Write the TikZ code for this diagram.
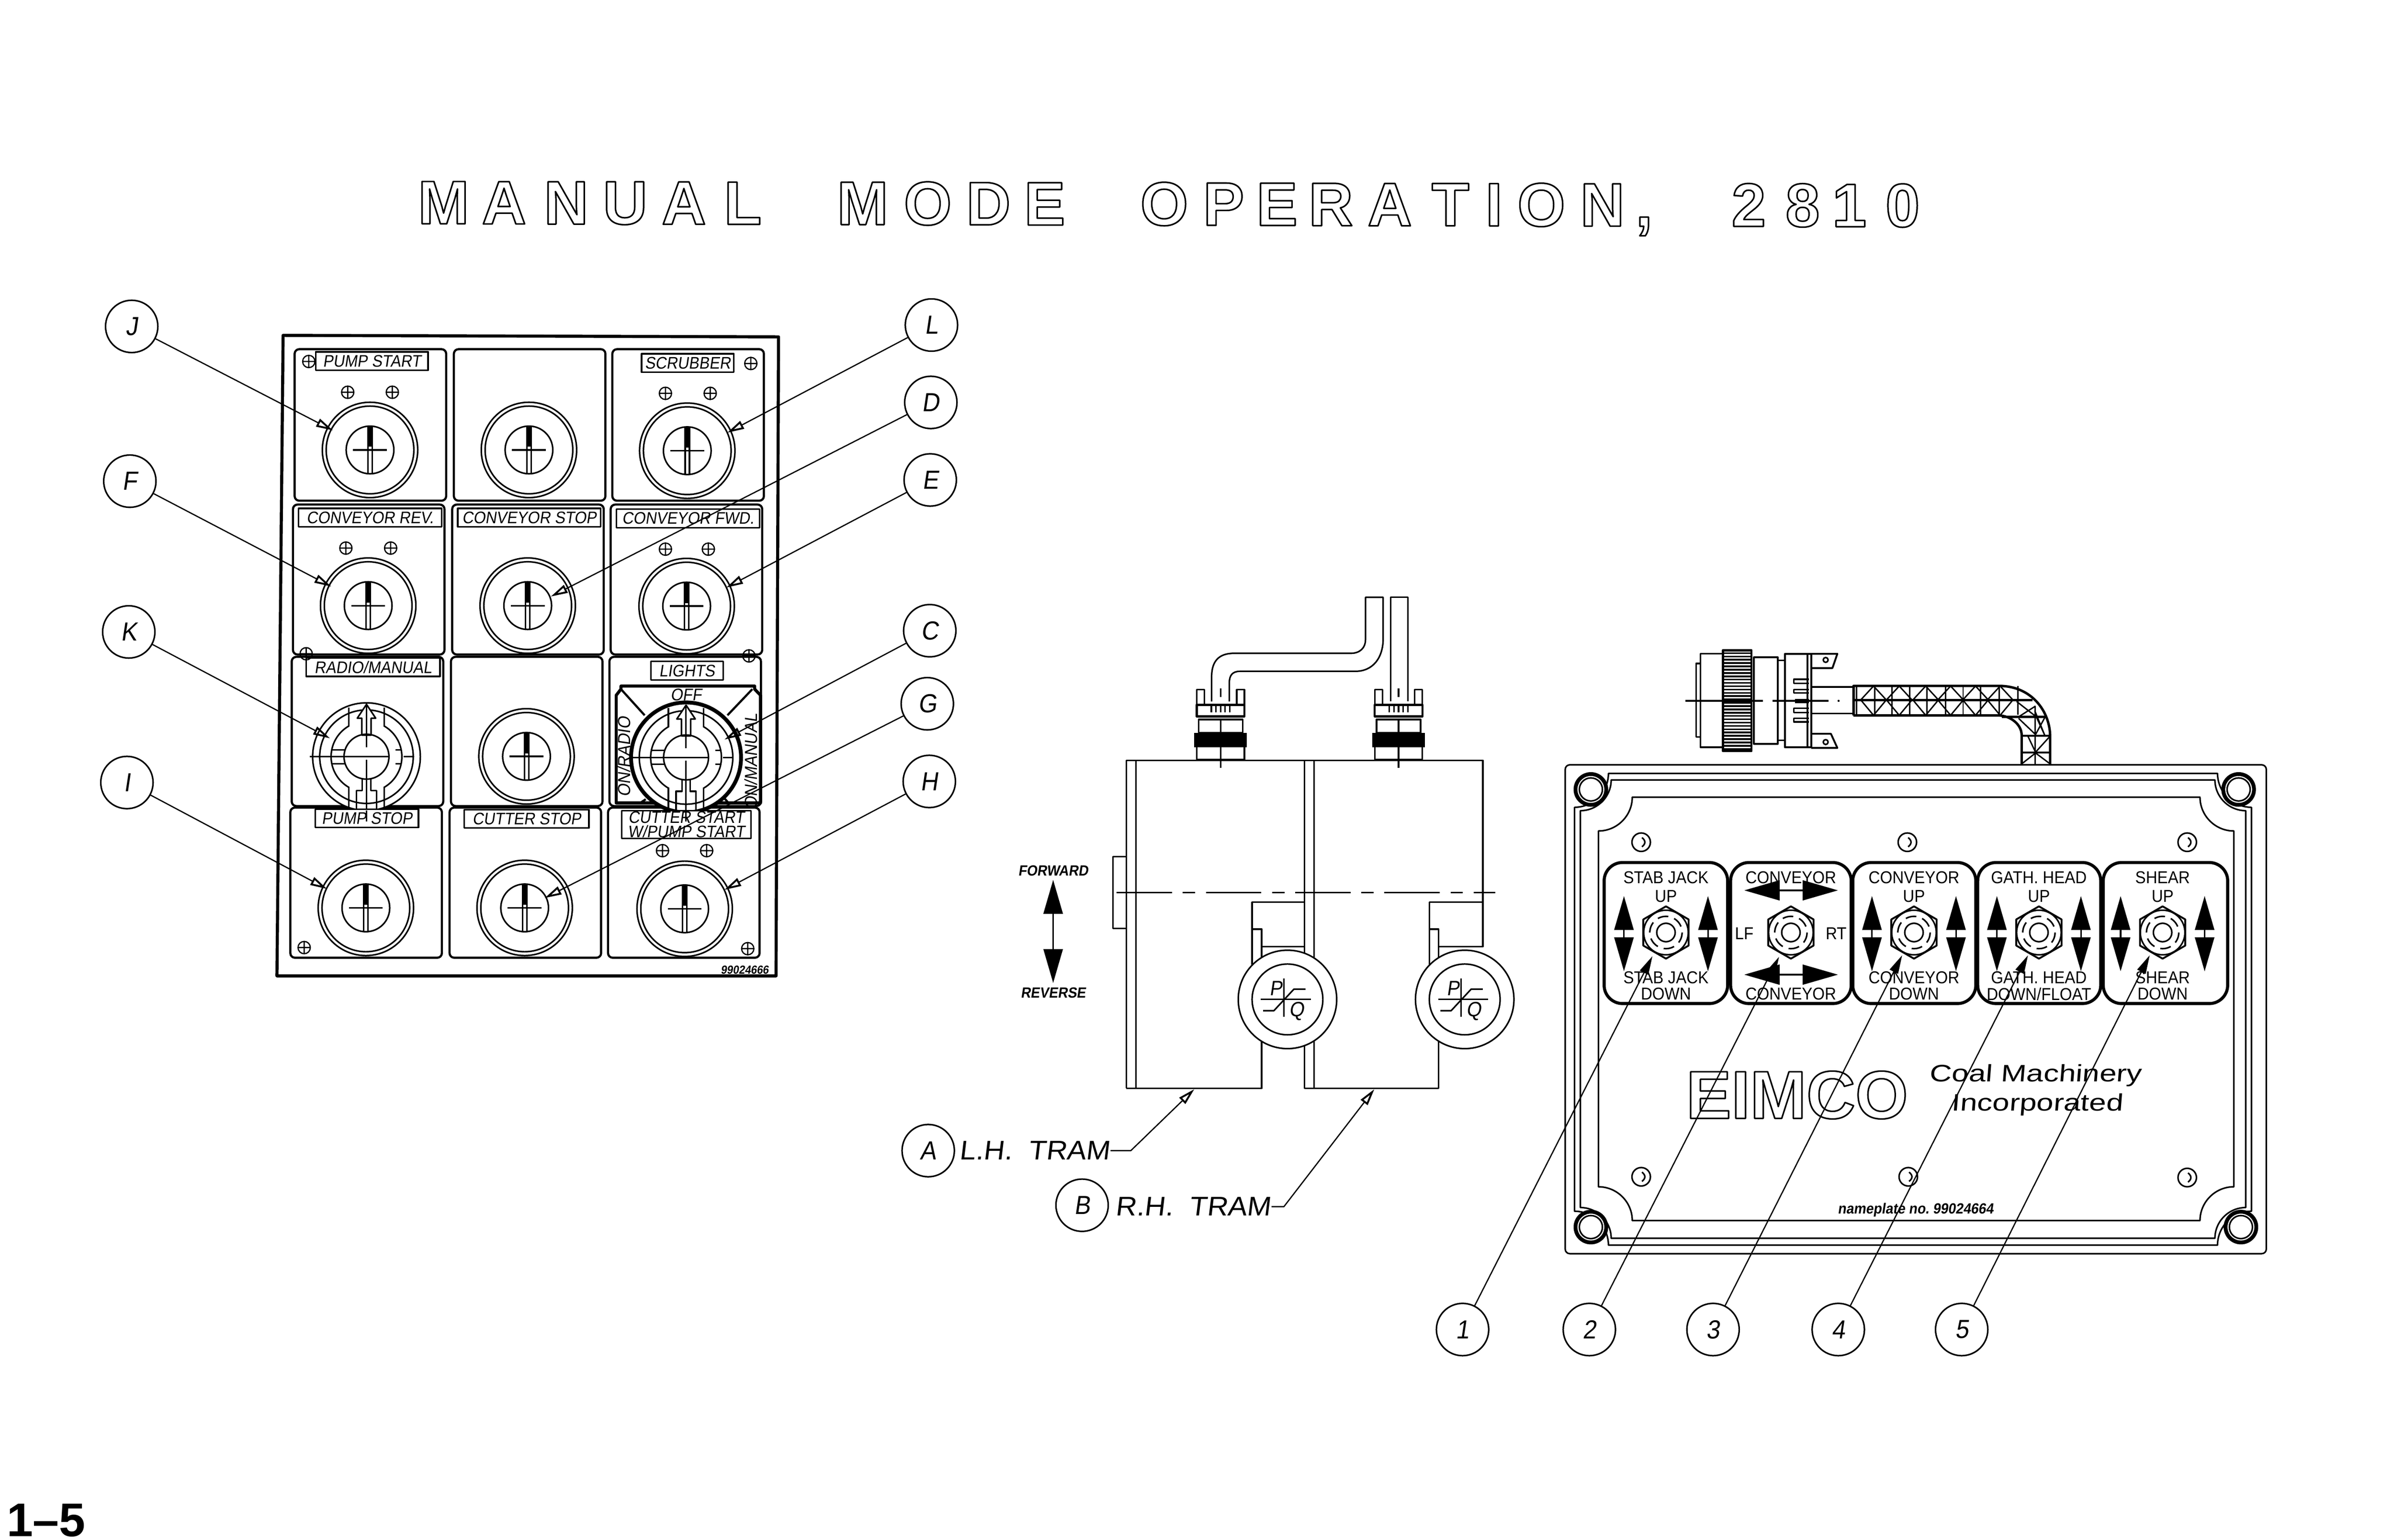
\documentclass[tikz,border=0pt]{standalone}
\usepackage{fontspec}
\setmainfont{Liberation Sans}
\newfontfamily\cadfont[FakeSlant=0.15,FakeStretch=0.92]{Liberation Sans}
\newfontfamily\cadup[FakeStretch=0.92]{Liberation Sans}
\newfontfamily\cadtram[FakeSlant=0.12,FakeStretch=1.07]{Liberation Sans}
\newfontfamily\cadwide[FakeSlant=0.08,FakeStretch=1.28]{Liberation Sans}
\newfontfamily\titlefont{Liberation Sans}
\usetikzlibrary{arrows.meta,positioning,shapes.geometric,calc}

% outlined letters
\newcommand{\outlined}[1]{\special{pdf:code 1 Tr 1 w}#1\special{pdf:code 0 Tr}}

\tikzset{
  callout/.style={circle,draw,fill=white,minimum size=34pt,inner sep=0pt,font=\cadfont\fontsize{17}{17}\selectfont},
  tag/.style={draw,fill=white,inner sep=0pt,minimum height=12pt,font=\cadfont\fontsize{10.9}{9.5}\selectfont},
  btnring/.style={circle,draw,fill=white,minimum size=62pt,inner sep=0pt},
  leader/.style={->,line width=0.8pt},
  leaderdark/.style={-{Triangle[length=12pt,width=6pt]},line width=0.8pt},
  swplate/.style={draw,line width=2pt,rounded corners=12pt},
  swtext/.style={font=\cadup\fontsize{11.2}{11}\selectfont,inner sep=0pt},
  hexnut/.style={regular polygon,regular polygon sides=6,shape border rotate=30,draw,line width=1.2pt,minimum size=34pt,inner sep=0pt},
  titleletter/.style={anchor=base,inner sep=0pt,font=\titlefont\bfseries\fontsize{40}{40}\selectfont},
  dial/.style={circle,draw,fill=white,inner sep=0pt},
  bigarrow/.style={{Triangle[length=22pt,width=12.5pt]}-{Triangle[length=22pt,width=12.5pt]}},
  widearrow/.style={{Triangle[length=23pt,width=13pt]}-{Triangle[length=23pt,width=13pt]}}
}

% push button of the panel
\newcommand{\pushbtn}[3]{%
  \node[btnring] (#1) at (#2,#3) {};
  \draw (#2,#3) circle[radius=28.5];
  \draw (#2,#3) circle[radius=15.5];
  \begin{scope}[shift={(#2,#3)}]
    \draw (-1.4,-15.2) -- (-1.4,15.2) (1.4,-15.2) -- (1.4,15.2);
    \fill (-1.4,-15) rectangle (1.4,-2);
    \draw (-11,0) -- (11,0);
  \end{scope}
}
% selector switch of the panel
\newcommand{\selector}[3]{%
  \node[circle,draw,fill=white,minimum size=70pt,inner sep=0pt] (#1) at (#2,#3) {};
  \begin{scope}[shift={(#2,#3)}]
    \draw (0,0) circle[radius=30.4];
    \draw (0,0) circle[radius=23];
    \fill[white] (-11,-27) rectangle (11,-15);
    \fill[white] (-11,27) rectangle (11,15);
    \draw (-11.5,-32) -- (-11.5,-20) (11.5,-32) -- (11.5,-20);
    \draw (-11.5,33) -- (-11.5,20) (11.5,33) -- (11.5,20);
    \draw[fill=white] (0,-34) -- (-6,-25) -- (-3,-25) -- (-3,-14) -- (3,-14) -- (3,-25) -- (6,-25) -- cycle;
    \draw (-6.5,34) -- (-6.5,22) -- (-2.7,22) -- (-2.7,14) (6.5,34) -- (6.5,22) -- (2.7,22) -- (2.7,14);
    \draw (0,0) circle[radius=14.6];
    \draw (-37,0) -- (14.6,0) (24,0) -- (31,0) (-23,-4.5) -- (-14,-4.5) (-23,4.5) -- (-14,4.5);
    \draw (19,-4.5) -- (23,-4.5) (19,4.5) -- (23,4.5);
    \draw (0,-34) -- (0,-6) (0,2) -- (0,42);
  \end{scope}
}
\newcommand{\screw}[2]{%
  \draw[line width=0.8pt] (#1,#2) circle[radius=4] (#1-4,#2) -- (#1+4,#2) (#1,#2-4) -- (#1,#2+4);
}
% plug on top of the tram switch
\newcommand{\tramplug}[1]{%
  \begin{scope}[shift={(#1,0)}]
    \draw (-15.5,493.7) rectangle (15.5,485.3);
    \fill (-17.2,476.4) rectangle (17.2,485.9);
    \draw (-14.3,467.7) rectangle (14.3,476.4);
    \draw[line width=1.4pt] (-15.5,458.2) rectangle (15.5,465.7);
    \draw (-15.5,458.2) -- (-15.5,448.4) -- (-10.5,448.4) -- (-10.5,458.2);
    \draw (15.5,458.2) -- (15.5,448.4) -- (10.5,448.4) -- (10.5,458.2);
    \foreach \pin in {-6,-3,0,3,6} {\draw (\pin,458) -- (\pin,463);}
    \draw (0,447.6) -- (0,453) (0,467.7) -- (0,499.3);
  \end{scope}
}

\begin{document}
\begin{tikzpicture}[x=1pt,y=-1pt,line width=1pt,line join=round,>={Triangle[open,length=11pt,width=5.5pt,line width=1.2pt]}]
    \useasboundingbox (0,0) rectangle (1556,1001);
    \fill[white] (0,0) rectangle (1556,1001);

    % Title
    \foreach \ch/\x/\y in {M/288.3/145.5,A/327.6/145.6,N/368/145.7,U/406.3/145.7,A/444.5/145.8,L/482.8/145.9,
        M/560.7/146,O/603/146.1,D/642.4/146.2,E/679/146.3,O/756.7/146.4,P/795.3/146.5,E/830/146.6,R/865/146.7,
        A/903.3/146.8,T/942.7/146.8,I/971/146.9,O/1001.8/147,N/1041.5/147,{,}/1068.6/147.1,
        2/1136.6/147.2,8/1171.6/147.3,1/1202/147.4,0/1236.6/147.4} {
        \node[titleletter] at (\x,\y) {\outlined{\ch}};
    }
    \node[inner sep=0pt,font=\bfseries\fontsize{30.7}{30.7}\selectfont] (pagenum) at (30,988.5) {1--5};

    % Panel
    \draw[line width=2pt] (184,218) -- (506,219) -- (504.4,634.4) -- (180,634.4) -- cycle;
    \foreach \ya/\yb/\off in {227/325.5/0,328/425.5/1.1,427/524/1.9,525/622.6/2.8} {
        \foreach \xa in {191.5,295,398} {
            \draw[line width=1.4pt,rounded corners=3pt] (\xa-\off,\ya) rectangle (\xa-\off+98.5,\yb);
        }
    }
    \foreach \i/\x/\y in {J/240.5/292.5,M/343.8/292.5,L/446.7/293,F/239.3/393.7,D/343/393.7,E/446.3/394,
        S/342.2/491.7,I/237.8/590.2,G/341/590.2,H/445/590.8} {
        \pushbtn{btn\i}{\x}{\y}
    }
    \selector{btnK}{238.2}{491.9}

    % Lights selector
    \draw[line width=2pt] (400.5,522) -- (400.5,452) -- (403.6,448) -- (403.6,446) -- (490.5,446) -- (490.5,448) -- (494.3,452) -- (494.3,522) -- cycle;
    \draw[line width=1.4pt] (403.6,448) -- (419,465) (489,448) -- (472.8,465);
    \draw[line width=1.4pt] (419.7,519.6) -- (416,522) (473.5,522) -- (470,518);
    \selector{btnC}{445.9}{492.4}
    \draw[line width=2pt] (445.9,492.4) circle[radius=36];
    \node[inner sep=0pt,font=\cadfont\fontsize{11}{11}\selectfont] (off) at (445.9,451.6) {OFF};
    \node[inner sep=0pt,rotate=90,font=\cadfont\fontsize{11.4}{11}\selectfont] (onradio) at (405.5,492) {ON/RADIO};
    \node[inner sep=0pt,rotate=90,font=\cadfont\fontsize{11.4}{11}\selectfont] (onmanual) at (488.2,495) {ON/MANUAL};

    % Panel tags
    \node[tag,minimum width=73pt] (tagpumpstart) at (241.7,234.7) {PUMP START};
    \node[tag,minimum width=60pt] (tagscrubber) at (447,236) {SCRUBBER};
    \node[tag,minimum width=93pt] (tagconvrev) at (240.5,336.5) {CONVEYOR REV.};
    \node[tag,minimum width=93pt] (tagconvstop) at (344,336.5) {CONVEYOR STOP};
    \node[tag,minimum width=93pt] (tagconvfwd) at (447.2,337) {CONVEYOR FWD.};
    \node[tag,minimum width=87pt] (tagradio) at (242.5,433.7) {RADIO/MANUAL};
    \node[tag,minimum width=47pt] (taglights) at (446.5,436) {LIGHTS};
    \node[tag,minimum width=67pt] (tagpumpstop) at (238.5,532) {PUMP STOP};
    \node[tag,minimum width=81pt] (tagcutstop) at (342.3,532.3) {CUTTER STOP};
    \node[tag,minimum width=84pt,minimum height=18pt,align=center] (tagcutstart) at (446,536) {CUTTER START\\W/PUMP START};
    \draw (238.2,527) -- (238.2,534) (445.9,527) -- (445.9,534);
    \node[inner sep=0pt,font=\cadfont\bfseries\fontsize{7.6}{8}\selectfont] (partpanel) at (484,630.5) {99024666};

    \screw{200.7}{235}
    \screw{226}{255}
    \screw{255}{255}
    \screw{488}{236.3}
    \screw{432.5}{255.7}
    \screw{461.6}{255.7}
    \screw{224.8}{356.3}
    \screw{253.9}{356.3}
    \screw{432.5}{357}
    \screw{460.4}{357}
    \screw{199}{425}
    \screw{486.8}{426.4}
    \screw{430.6}{553}
    \screw{459.3}{553}
    \screw{197.7}{616}
    \screw{486}{616.7}

    % Panel callouts
    \node[callout] (cJ) at (85.6,212.2) {J};
    \node[callout] (cL) at (605.4,211.3) {L};
    \node[callout] (cD) at (605,261.6) {D};
    \node[callout] (cE) at (604.6,312) {E};
    \node[callout] (cF) at (84.4,312.8) {F};
    \node[callout] (cK) at (83.7,410.8) {K};
    \node[callout] (cC) at (604.3,410) {C};
    \node[callout] (cG) at (602.7,457.5) {G};
    \node[callout] (cI) at (82.5,508.7) {I};
    \node[callout] (cH) at (604,508) {H};
    \foreach \n/\x/\y in {J/216.4/279.8,L/472.7/281.3,D/358/387.8,E/472/382,F/215.3/381.3,
        K/214.5/480,C/470.8/480.8,G/354/583.8,I/212.6/577.9,H/470.8/578.5} {
        \coordinate (end\n) at (\x,\y);
        \draw[leader] (c\n) -- (end\n);
    }

    % Tram switches
    \draw (732,707.5) -- (732,494.3) -- (963.8,494.3) -- (963.8,615.3) -- (934.8,615.3);
    \draw (738.3,494.3) -- (738.3,707.5);
    \draw (732,707.5) -- (820,707.5) -- (820,604) -- (813.8,604);
    \draw (813.8,627) -- (813.8,586.5) -- (847.8,586.5) (820,615.3) -- (847.8,615.3);
    \draw (847.8,494.3) -- (847.8,707.5) -- (935,707.5) -- (935,604) -- (929,604);
    \draw (854,494.3) -- (854,707.5);
    \draw (929,627) -- (929,586.5) -- (963.8,586.5);
    \draw (732,557) -- (723.3,557) -- (723.3,603.5) -- (732,603.5);
    \draw[dash pattern=on 36pt off 7pt on 8pt off 7pt] (725.8,580.3) -- (972,580.3);
    \tramplug{793.3}
    \tramplug{909}
    % cables
    \draw (787.5,456) -- (787.5,440) .. controls (787.5,430) and (792,424.7) .. (802,424.7) -- (878,424.7)
        .. controls (884,424.7) and (887.5,421) .. (887.5,416) -- (887.5,388.3) -- (899,388.3) -- (899,415)
        .. controls (899,428) and (892,436.4) .. (881,436.4) -- (806,436.4)
        .. controls (801,436.4) and (799,439) .. (799,444) -- (799,456);
    \draw (903.8,456) -- (903.8,388.3) -- (915,388.3) -- (915,456);
    % dials
    \foreach \d/\x in {left/836.8,right/952} {
        \node[dial,minimum size=64pt] (dial\d) at (\x,649.7) {};
        \node[dial,minimum size=46pt] (face\d) at (dial\d) {};
        \draw (\x-17.3,649.7) -- (\x+15.2,649.7) (\x-2.3,636) -- (\x-2.3,661);
        \draw (\x-15.8,657) -- (\x-8.8,657) -- (\x+4.2,643) -- (\x+11.7,643);
        \node[inner sep=0pt,font=\cadfont\fontsize{13.5}{13.5}\selectfont] (P\d) at (\x-7.5,642.4) {P};
        \node[inner sep=0pt,font=\cadfont\fontsize{13.5}{13.5}\selectfont] (Q\d) at (\x+6,657.5) {Q};
    }
    % direction arrow
    \node[inner sep=0pt,font=\cadfont\bfseries\fontsize{9.6}{10}\selectfont] (fwd) at (684.5,566) {FORWARD};
    \node[inner sep=0pt,font=\cadfont\bfseries\fontsize{9.6}{10}\selectfont] (rev) at (684.5,645.5) {REVERSE};
    \draw[bigarrow] (684.5,572) -- (684.5,639);

    % Tram callouts
    \node[callout] (cA) at (603.3,748) {A};
    \node[anchor=west,inner sep=0pt,font=\cadtram\fontsize{17.5}{18}\selectfont] (tramA) at (623,748) {L.H.\ \ TRAM};
    \coordinate (kneeA) at (735,748);
    \coordinate (endA) at (776.3,708);
    \draw[leader] (tramA) -- (kneeA) -- (endA);
    \node[callout] (cB) at (703.3,783.5) {B};
    \node[anchor=west,inner sep=0pt,font=\cadtram\fontsize{17.5}{18}\selectfont] (tramB) at (724.5,784.4) {R.H.\ \ TRAM};
    \coordinate (kneeB) at (834.5,784.4);
    \coordinate (endB) at (893.3,708);
    \draw[leader] (tramB) -- (kneeB) -- (endB);

    % Remote connector
    \draw (1102.3,431.3) rectangle (1105.2,479);
    \draw (1105.2,425) rectangle (1119.8,485.8);
    \draw[line width=1.4pt] (1119.8,422.8) rectangle (1138.4,488.2);
    \foreach \y in {424.6,426.75,...,488} {\draw[line width=1.1pt] (1119.8,\y) -- (1138.4,\y);}
    \draw[line width=1.2pt] (1140,427.4) rectangle (1155.4,483.5);
    \draw (1155.4,429.3) rectangle (1160.2,481.2);
    \draw[line width=1.2pt] (1160.2,425) rectangle (1177.2,485.8);
    \draw (1174.8,425) -- (1174.8,485.8);
    \draw[line width=1.2pt] (1177.2,425) -- (1194.2,425) -- (1191,434.3) -- (1177.2,434.3);
    \draw[line width=1.2pt] (1177.2,477) -- (1190,477) -- (1194.2,486.2) -- (1177.2,486.2);
    \draw (1186.6,429) circle[radius=1.6] (1186.6,482.4) circle[radius=1.6];
    \foreach \ya/\yb in {441.6/444.3,448.2/450.5,460.5/463.2,467/469.3} {
        \draw (1175.6,\ya) -- (1166,\ya) -- (1166,\yb) -- (1175.6,\yb);
    }
    \draw (1177.2,446.6) -- (1204.7,446.6) (1177.2,463.9) -- (1204.7,463.9);
    \draw[line width=1.3pt] (1095.5,455.6) -- (1145.7,455.6) (1152,455.6) -- (1188.5,455.6);
    \fill (1166.7,454.2) rectangle (1175.6,457);
    \fill (1195,455.6) circle[radius=0.7];
    % braid
    \draw[line width=1.6pt] (1204.7,465.1) -- (1204.7,445.9) -- (1299.4,445.9) .. controls (1320,445.9) and (1332.5,462) .. (1332.5,479) -- (1332.5,496.6);
    \draw[line width=1.6pt] (1204.7,465.1) -- (1299.4,465.1) .. controls (1307,465.5) and (1314,471) .. (1314,478) -- (1314,496.6);
    \draw[line width=1.6pt] (1204.7,455.1) -- (1321,455.1);
    \foreach \x in {1206.6,1218.5,1229.8,1241.1,1252.5,1264.6,1275.9,1287.2,1299.4,1311.5} {
        \draw[line width=0.9pt] (\x,446) -- (\x,464.5);
    }
    \foreach \x in {1217.7,1234.4,1251.6,1267.8,1284,1300} {
        \draw[line width=0.9pt] (\x-8.3,455) -- (\x,446) -- (\x+8.3,455) -- (\x,465) -- cycle;
    }
    \draw[line width=1.3pt] (1301,466) -- (1330,466) (1314,478.2) -- (1332.5,478.2) (1314,489.3) -- (1332.5,489.3);
    \draw[line width=0.9pt] (1322.8,458.9) -- (1322.8,496.6);
    \draw[line width=0.9pt] (1310.7,456) -- (1323.5,466) -- (1329,478) -- (1322.5,462) (1323,459) -- (1312,466);
    \draw[line width=0.9pt] (1312,467) -- (1323,477.5) -- (1329,466.5) (1318,478.5) -- (1323,489) -- (1332.5,478.5);
    \draw[line width=0.9pt] (1314,496.6) -- (1323,489.5) -- (1332.5,496.6);

    % Control box
    \draw[rounded corners=3pt] (1017.3,497.2) rectangle (1473,815);
    \foreach \xa/\ya/\xb/\yb/\rr in {1023.4/502.8/1463.3/809.4/22,1027.2/507/1459.6/805/20,1038.9/518.2/1451.9/793.5/22} {
        \draw (\xa+\rr,\ya) -- (\xb-\rr,\ya)
            .. controls (\xb-\rr,\ya+0.55*\rr) and (\xb-0.55*\rr,\ya+\rr) .. (\xb,\ya+\rr) -- (\xb,\yb-\rr)
            .. controls (\xb-0.55*\rr,\yb-\rr) and (\xb-\rr,\yb-0.55*\rr) .. (\xb-\rr,\yb) -- (\xa+\rr,\yb)
            .. controls (\xa+\rr,\yb-0.55*\rr) and (\xa+0.55*\rr,\yb-\rr) .. (\xa,\yb-\rr) -- (\xa,\ya+\rr)
            .. controls (\xa+0.55*\rr,\ya+\rr) and (\xa+\rr,\ya+0.55*\rr) .. (\xa+\rr,\ya) -- cycle;
    }
    \foreach \x/\y in {1034/513.2,1455/513.2,1034/797.7,1456.5/797.7} {
        \draw[line width=2.5pt,fill=white] (\x,\y) circle[radius=10];
        \draw (\x,\y) circle[radius=7.5];
    }
    \foreach \x/\y in {1066.7/547.5,1239.7/547.5,1421.6/547.5,1066.7/765,1240.3/765,1421.6/765.5} {
        \draw (\x,\y) circle[radius=6];
        \draw (\x+0.5,\y-3) .. controls (\x+3,\y-1) and (\x+3,\y+1) .. (\x+0.5,\y+3);
    }

    % Switch plates
    \foreach \xa/\xb in {1042.6/1122.9,1124.8/1203.2,1204.2/1284.2,1285.4/1365.4,1367/1447.9} {
        \draw[swplate] (\xa,560.7) rectangle (\xb,652.4);
    }
    \foreach \i/\x in {1/1082.8,2/1164,3/1244,4/1325.2,5/1405.6} {
        \node[hexnut] (sw\i) at (\x,606.2) {};
        \draw (\x,606.2) circle[radius=14.5];
        \draw[dash pattern=on 7pt off 4pt] (\x,606.2) circle[radius=10.5];
        \draw (\x,606.2) circle[radius=6];
    }
    \foreach \x in {1082.8,1244,1325.2,1405.6} {
        \draw[bigarrow] (\x-27.3,582.5) -- (\x-27.3,631.4);
        \draw[bigarrow] (\x+27.3,582.5) -- (\x+27.3,631.4);
    }
    \draw[widearrow] (1133.7,578.8) -- (1194.6,578.8);
    \draw[widearrow] (1133.7,633.6) -- (1194.6,633.6);

    \node[swtext] (stabtop) at (1082.8,570.5) {STAB JACK};
    \node[swtext] (stabup) at (1082.8,582.5) {UP};
    \node[swtext] (stablow) at (1082.8,635.6) {STAB JACK};
    \node[swtext] (stabdown) at (1082.8,646.2) {DOWN};
    \node[swtext] (lefttop) at (1164,570.5) {CONVEYOR};
    \node[swtext] (lf) at (1133.7,607) {LF};
    \node[swtext] (rt) at (1193.4,607) {RT};
    \node[swtext] (leftlow) at (1164,646.2) {CONVEYOR};
    \node[swtext] (convtop) at (1244,570.5) {CONVEYOR};
    \node[swtext] (convup) at (1244,582.5) {UP};
    \node[swtext] (convlow) at (1244,635.6) {CONVEYOR};
    \node[swtext] (convdown) at (1244,646.2) {DOWN};
    \node[swtext] (gathtop) at (1325.2,570.5) {GATH.\ HEAD};
    \node[swtext] (gathup) at (1325.2,582.5) {UP};
    \node[swtext] (gathlow) at (1325.2,635.6) {GATH.\ HEAD};
    \node[swtext] (gathdown) at (1325.2,646.2) {DOWN/FLOAT};
    \node[swtext] (sheartop) at (1405.6,570.5) {SHEAR};
    \node[swtext] (shearup) at (1405.6,582.5) {UP};
    \node[swtext] (shearlow) at (1405.6,635.6) {SHEAR};
    \node[swtext] (sheardown) at (1405.6,646.2) {DOWN};

    % Nameplate
    \node[anchor=base,inner sep=0pt,font=\bfseries\fontsize{44}{44}\selectfont] (eimco) at (1168,727) {\outlined{EIMCO}};
    \node[inner sep=0pt,font=\cadwide\fontsize{15.5}{15.5}\selectfont] (coal) at (1323,699) {Coal Machinery};
    \node[inner sep=0pt,font=\cadwide\fontsize{15.5}{15.5}\selectfont] (incorp) at (1324,718) {Incorporated};
    \node[inner sep=0pt,font=\cadfont\bfseries\fontsize{9.6}{10}\selectfont] (partbox) at (1245,786.5) {nameplate no.\ 99024664};

    % Numbered callouts
    \foreach \i/\x/\ex/\ey in {1/950.6/1074/621.6,2/1033/1156.3/622,3/1113.4/1236.3/621,4/1194.8/1318.1/621,5/1275/1397.2/621} {
        \node[callout,fill=none] (c\i) at (\x,864.3) {\i};
        \coordinate (tip\i) at (\ex,\ey);
        \draw[leaderdark] (c\i) -- (tip\i);
    }
\end{tikzpicture}
\end{document}
